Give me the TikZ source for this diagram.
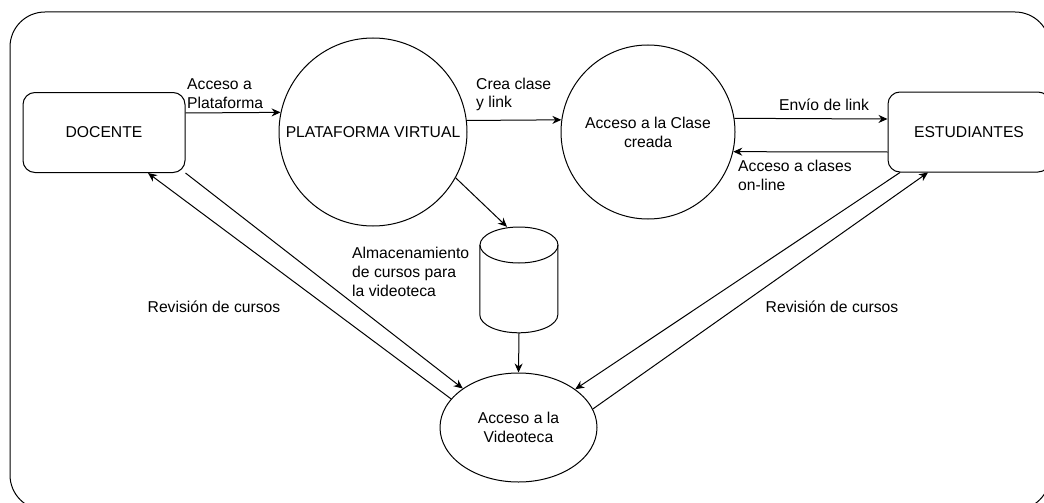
\documentclass[tikz,border=0pt]{standalone}
\usepackage{fontspec}
\setmainfont{Liberation Sans}
\usetikzlibrary{arrows.meta,shapes.geometric}

\begin{document}
\begin{tikzpicture}[x=1pt,y=-1pt,
  every node/.style={font=\fontsize{15.7}{18.8}\selectfont},
  box/.style={draw,rounded corners=12pt,minimum width=162pt,minimum height=80pt,line width=1pt},
  bubble/.style={draw,circle,inner sep=0pt,line width=1pt},
  txt/.style={inner sep=0pt,align=left},
  link/.style={line width=1pt,-{Stealth[length=9pt,width=8pt]}}]
  \useasboundingbox (0,0) rectangle (1044,503);
  \clip (0,0) rectangle (1044,503);
  % frame
  \draw[line width=1pt,rounded corners=35pt] (10,12) rectangle (1050,510);

  \node[box] (docente) at (104,132.5) {DOCENTE};
  \node[box] (estud) at (969,132) {ESTUDIANTES};
  \node[bubble,minimum size=188pt] (plat) at (373,132) {PLATAFORMA VIRTUAL};
  \node[bubble,minimum size=174pt,align=center] (clase) at (648,132) {Acceso a la Clase\\creada};
  \node[draw,ellipse,line width=1pt,minimum width=157pt,minimum height=109pt,inner sep=0pt,align=center] (video) at (518.5,427.5) {Acceso a la\\Videoteca};

  % storage drum
  \node[minimum width=78pt,minimum height=106pt,inner sep=0pt] (almac) at (519,280) {};
  \draw[line width=1pt] (519,245) ellipse [x radius=39,y radius=18];
  \draw[line width=1pt] (almac.north west) ++(0,18) -- ++(0,70)
    arc[start angle=180,end angle=0,x radius=39,y radius=18] -- ++(0,-70);

  \draw[link] ([yshift=19.5pt]docente.east) -- (plat.168);
  \draw[link] (plat.7) -- (clase.172);
  \draw[link] (clase.9) -- ([yshift=13pt]estud.west);
  \draw[link] ([yshift=-20pt]estud.west) -- (clase.-13);
  \draw[link] (plat.-29) -- ([xshift=-12pt]almac.north);
  \draw[link] (almac.south) -- (video.north);
  \draw[link] (docente.south east) -- (video.145);
  \draw[link] (video.157) -- ([xshift=44pt]docente.south);
  \draw[link] ([xshift=-69pt]estud.south) -- (video.34);
  \draw[link] (video.14) -- ([xshift=-41pt]estud.south);

  \node[txt,anchor=west] (lblacceso) at (187,93.5) {Acceso a\\Plataforma};
  \node[txt,anchor=west] (lblcrea) at (476,94.5) {Crea clase\\y link};
  \node[txt] (lblenvio) at (824,105) {Envío de link};
  \node[txt,anchor=west] (lblclases) at (738,175) {Acceso a clases\\on-line};
  \node[txt,anchor=west] (lblalmac) at (352,272) {Almacenamiento\\de cursos para\\la videoteca};
  \node[txt] (lblrevdoc) at (214,307) {Revisión de cursos};
  \node[txt] (lblrevest) at (832,307) {Revisión de cursos};
\end{tikzpicture}
\end{document}
